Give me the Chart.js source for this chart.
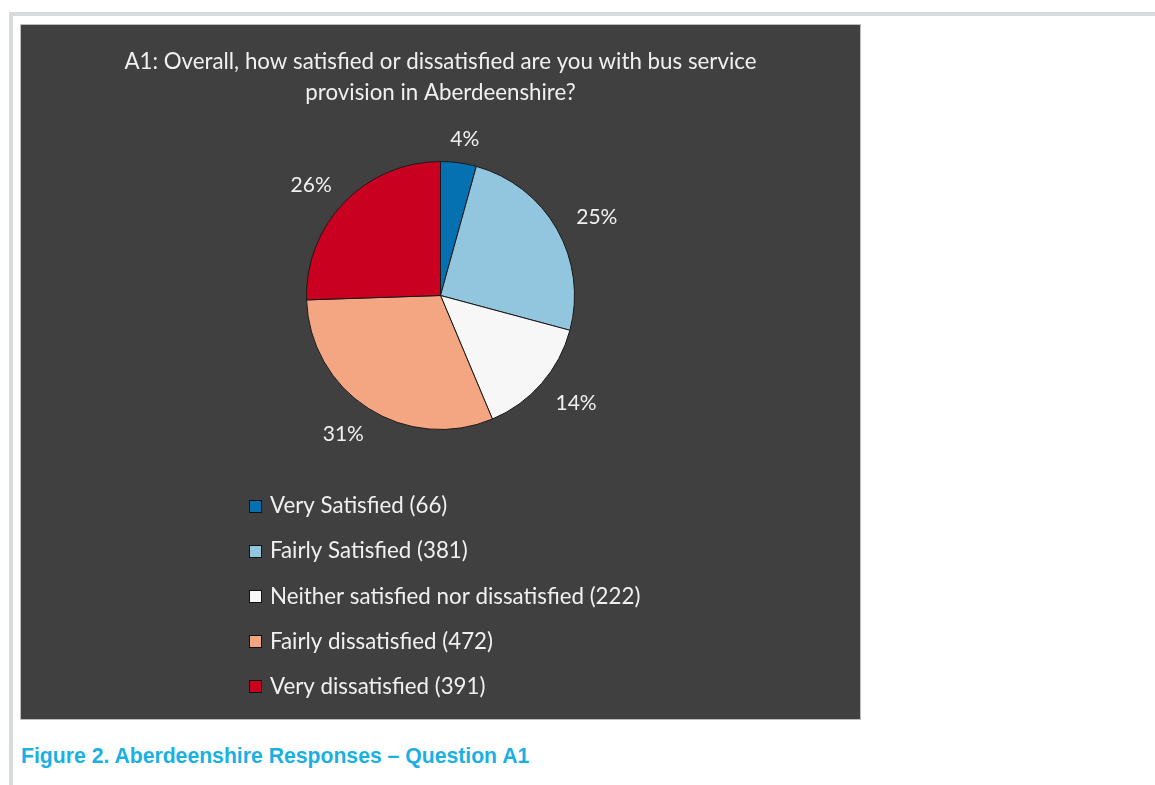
<!DOCTYPE html>
<html>
<head>
<meta charset="utf-8">
<script src="https://cdn.jsdelivr.net/npm/chart.js@4.4.1/dist/chart.umd.min.js"></script>
<style>
  html, body { margin: 0; padding: 0; background: #ffffff; }
  body { width: 1155px; height: 785px; position: relative; overflow: hidden; }
  .rule-top { position: absolute; left: 9px; top: 12px; width: 1146px; height: 4px; background: #d8dbde; }
  .rule-left { position: absolute; left: 9px; top: 12px; width: 4px; height: 773px; background: #d8dbde; }
  .panel { position: absolute; left: 20px; top: 24px; width: 839px; height: 694px;
           background: #404040; border: 1px solid #bdbdbd; }
  #chart { display: block; }
  .caption { position: absolute; left: 21px; top: 744px; margin: 0;
             font: bold 21.2px "Liberation Sans", Arial, sans-serif; color: #1ab0e4; white-space: nowrap; }
</style>
</head>
<body>
<div class="rule-top"></div>
<div class="rule-left"></div>
<div class="panel"><canvas id="chart" width="839" height="694"></canvas></div>
<p class="caption">Figure 2. Aberdeenshire Responses – Question A1</p>

<script>
// Survey question A1: response categories and respondent counts
const categories = [
  'Very Satisfied',
  'Fairly Satisfied',
  'Neither satisfied nor dissatisfied',
  'Fairly dissatisfied',
  'Very dissatisfied'
];
const counts = [66, 381, 222, 472, 391];
const sliceColors = ['#0571b0', '#92c5de', '#f7f7f7', '#f4a582', '#ca0020'];
const titleLines = [
  'A1: Overall, how satisfied or dissatisfied are you with bus service',
  'provision in Aberdeenshire?'
];

const FONT = 'Lato, "Open Sans", sans-serif';
const TEXT = '#f0f0f0';
const total = counts.reduce((a, b) => a + b, 0);

// Title, outside percentage labels and a vertical legend drawn on the canvas
const decorations = {
  id: 'decorations',
  afterDraw(chart) {
    const ctx = chart.ctx;
    const w = chart.width;
    ctx.save();
    ctx.fillStyle = TEXT;
    ctx.textBaseline = 'middle';

    // title
    ctx.font = '22.3px ' + FONT;
    ctx.textAlign = 'center';
    titleLines.forEach((line, i) => ctx.fillText(line, w / 2, 37 + i * 31));

    // percentage labels on an ellipse just outside the pie
    const meta = chart.getDatasetMeta(0);
    ctx.font = '21px ' + FONT;
    meta.data.forEach((arc, i) => {
      const mid = (arc.startAngle + arc.endAngle) / 2;
      const dx = Math.cos(mid), dy = Math.sin(mid);
      const rx = arc.outerRadius + 46;
      const ry = arc.outerRadius + 24 + 8 * Math.max(0, dy);
      const pct = Math.round(counts[i] / total * 100) + '%';
      ctx.fillText(pct, arc.x + dx * rx, arc.y + dy * ry);
    });

    // legend: left-aligned items, block centred under the pie
    ctx.font = '22.3px ' + FONT;
    const labels = categories.map((c, i) => c + ' (' + counts[i] + ')');
    const box = 13, gap = 8;
    const widest = Math.max(...labels.map(t => ctx.measureText(t).width)) + box + gap;
    const x0 = Math.round(meta.data[0].x + 4 - widest / 2);
    ctx.textAlign = 'left';
    labels.forEach((t, i) => {
      const y = 481 + i * 45.2;
      ctx.fillStyle = sliceColors[i];
      ctx.fillRect(x0, Math.round(y - box / 2), box, box);
      ctx.strokeStyle = '#111111';
      ctx.lineWidth = 1;
      ctx.strokeRect(x0 + 0.5, Math.round(y - box / 2) + 0.5, box - 1, box - 1);
      ctx.fillStyle = TEXT;
      ctx.fillText(t, x0 + box + gap, y);
    });
    ctx.restore();
  }
};

new Chart(document.getElementById('chart'), {
  type: 'pie',
  data: {
    labels: categories,
    datasets: [{
      data: counts,
      backgroundColor: sliceColors,
      borderColor: '#1a1a1a',
      borderWidth: 1
    }]
  },
  options: {
    responsive: false,
    animation: false,
    layout: { padding: { top: 136, bottom: 289, left: 0, right: 0 } },
    plugins: {
      legend: { display: false },
      tooltip: { enabled: false },
      title: { display: false }
    }
  },
  plugins: [decorations]
});
</script>
</body>
</html>
